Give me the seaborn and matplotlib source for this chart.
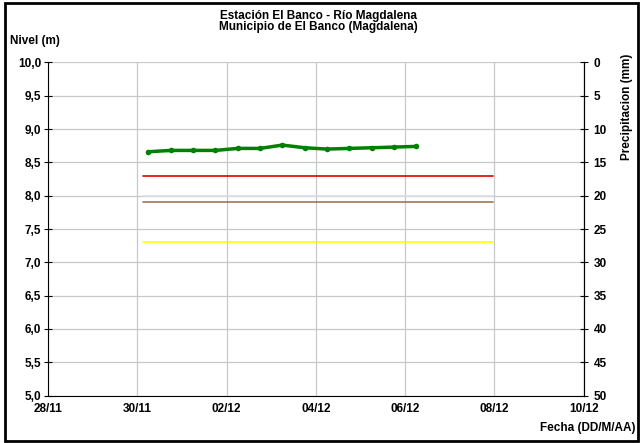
import seaborn as sns
import matplotlib.pyplot as plt
import matplotlib.dates as mdates
import pandas as pd

# nivel del rio cada 12 horas
fechas = pd.date_range("2010-11-30 06:00", "2010-12-06 06:00", freq="12h")
nivel = [8.66, 8.68, 8.68, 8.68, 8.71, 8.71, 8.76, 8.72, 8.70, 8.71, 8.72, 8.73, 8.74]

# niveles de referencia (alertas)
alertas = [8.30, 8.00, 7.90, 7.30]
colores_alerta = ["#e00000", "#dcdcf0", "#a07850", "#ffff00"]
inicio_alerta = pd.Timestamp("2010-11-30 03:00")
fin_alerta = pd.Timestamp("2010-12-07 23:00")

ticks_x = pd.date_range("2010-11-28", "2010-12-10", freq="2D")

sns.set_theme(style="white")
plt.rcParams["font.family"] = ["Liberation Sans", "DejaVu Sans"]
plt.rcParams["font.weight"] = "bold"
plt.rcParams["text.color"] = "black"
plt.rcParams["xtick.color"] = "black"
plt.rcParams["ytick.color"] = "black"

fs = 8.5

df = pd.DataFrame({"fecha": fechas, "nivel": nivel})

fig = plt.figure(figsize=(6.4, 4.43), dpi=100)
ax = fig.add_axes([0.075, 0.107, 0.837, 0.752])

for val, col in zip(alertas, colores_alerta):
    sns.lineplot(x=[inicio_alerta, fin_alerta], y=[val, val], color=col, linewidth=1.2, ax=ax)

sns.lineplot(data=df, x="fecha", y="nivel", color="#008000", linewidth=2.5,
             marker="o", markersize=4, markeredgewidth=0, ax=ax)

ax.set_xlim(ticks_x[0], ticks_x[-1])
ax.set_ylim(5, 10)
ax.set_yticks([5 + 0.5 * i for i in range(11)])
ax.set_yticklabels([f"{5 + 0.5 * i:.1f}".replace(".", ",") for i in range(11)], fontsize=fs, fontweight="bold")
ax.set_xticks(ticks_x)
ax.xaxis.set_major_formatter(mdates.DateFormatter("%d/%m"))
for lab in ax.get_xticklabels():
    lab.set_fontsize(fs)
    lab.set_fontweight("bold")
ax.grid(True, color="#c8c8c8", linewidth=0.9)
ax.set_xlabel("")
ax.set_ylabel("")
ax.tick_params(direction="inout", length=6, width=0.8, colors="black", labelcolor="black", pad=2)
for s in ax.spines.values():
    s.set_color("black")
    s.set_linewidth(0.8)
ax.spines["top"].set_visible(False)

ax2 = ax.twinx()
ax2.set_ylim(50, 0)
ax2.set_yticks(range(0, 55, 5))
ax2.set_yticklabels([str(v) for v in range(0, 55, 5)], fontsize=fs, fontweight="bold")
ax2.tick_params(direction="inout", length=6, width=0.8, colors="black", labelcolor="black", pad=4)
for s in ax2.spines.values():
    s.set_visible(False)
ax2.spines["right"].set_visible(True)
ax2.spines["right"].set_color("black")
ax2.spines["right"].set_linewidth(0.8)

fig.text(0.497, 0.965, "Estación El Banco - Río Magdalena", ha="center", va="center", fontsize=fs, fontweight="bold")
fig.text(0.497, 0.938, "Municipio de El Banco (Magdalena)", ha="center", va="center", fontsize=fs, fontweight="bold")
fig.text(0.016, 0.907, "Nivel (m)", ha="left", va="center", fontsize=fs, fontweight="bold")
fig.text(0.980, 0.758, "Precipitacion (mm)", ha="center", va="center", rotation=90, fontsize=fs, fontweight="bold")
fig.text(0.993, 0.034, "Fecha (DD/M/AA)", ha="right", va="center", fontsize=fs, fontweight="bold")

# marco negro
fig.patches.append(plt.Rectangle((0.008, 0.004), 0.989, 0.989, transform=fig.transFigure,
                                 fill=False, edgecolor="black", linewidth=2))

fig.savefig("out.png", dpi=100)
